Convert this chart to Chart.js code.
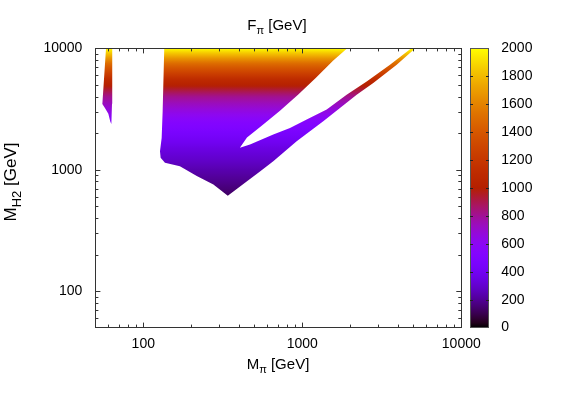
<!DOCTYPE html>
<html>
<head>
<meta charset="utf-8">
<script src="https://cdn.jsdelivr.net/npm/chart.js@4.4.1/dist/chart.umd.min.js"></script>
<style>
  html, body { margin: 0; padding: 0; background: #fff; }
</style>
</head>
<body>
<canvas id="myChart" width="563" height="394"></canvas>
<script>
const ctx = document.getElementById("myChart").getContext("2d");

// outline of the allowed region (M_pi, M_H2 in GeV), main wedge
const mainMpi = [135.5, 132.4, 130.5, 127.4, 128.6, 136.9, 170, 217, 276, 340,
  447, 542, 657, 922, 1355, 1726, 2198, 2795, 3925, 5117,
  4827, 3561, 2541, 1901, 1424, 1066, 837, 657, 469, 405,
  449, 558, 724, 940, 1219, 1560, 1910];
const mainMh2 = [10000, 3030, 1830, 1420, 1255, 1140, 1070, 886, 757, 610,
  800, 968, 1177, 1718, 2506, 3228, 4157, 5188, 7330, 10000,
  10000, 7330, 5346, 4157, 3130, 2590, 2213, 1950, 1614, 1516,
  1843, 2312, 3070, 4158, 5730, 7910, 10000];

// thin strip near M_pi ~ 60 GeV
const stripMpi = [58.3, 55.3, 57.4, 60.3, 62.0, 63.0, 63.6, 63.8];
const stripMh2 = [10000, 3480, 3230, 2890, 2500, 2380, 3500, 10000];

const colorMh2 = [600, 1000, 1500, 2500, 4000, 5500, 7500, 10000];
const colorFpi = [120, 240, 350, 540, 810, 1100, 1500, 2000];

const xTicks = [100, 1000, 10000];
const yTicks = [100, 1000, 10000];
const cbTicks = [0, 200, 400, 600, 800, 1000, 1200, 1400, 1600, 1800, 2000];
const cbMax = 2000;

const FONT = "'Liberation Sans', Arial, Helvetica, sans-serif";

// gnuplot default palette (rgbformulae 7,5,15)
function palette(t) {
  t = Math.max(0, Math.min(1, t));
  const r = Math.sqrt(t);
  const g = t * t * t;
  const b = Math.max(0, Math.sin(2 * Math.PI * t));
  return "rgb(" + Math.round(r * 255) + "," + Math.round(g * 255) + "," + Math.round(b * 255) + ")";
}

function regionFill(context) {
  const chart = context.chart;
  const y = chart.scales.y;
  if (!chart.chartArea || !y) return "#8000ff";
  const top = y.getPixelForValue(colorMh2[colorMh2.length - 1]);
  const bot = y.getPixelForValue(colorMh2[0]);
  const g = chart.ctx.createLinearGradient(0, bot, 0, top);
  for (let i = 0; i < colorMh2.length - 1; i++) {
    const p0 = y.getPixelForValue(colorMh2[i]);
    const p1 = y.getPixelForValue(colorMh2[i + 1]);
    for (let k = 0; k < 8; k++) {
      const f = k / 8;
      const px = p0 + (p1 - p0) * f;
      const v = colorFpi[i] + (colorFpi[i + 1] - colorFpi[i]) * f;
      g.addColorStop((bot - px) / (bot - top), palette(v / cbMax));
    }
  }
  g.addColorStop(1, palette(colorFpi[colorFpi.length - 1] / cbMax));
  return g;
}

function pts(xs, ys) {
  return xs.map((x, i) => ({ x: x, y: ys[i] }));
}

// text with a lowered subscript: main, sub, rest
function subText(c, parts, x, y, size, rot) {
  c.save();
  c.translate(x, y);
  if (rot) c.rotate(rot);
  c.fillStyle = "#000";
  c.textBaseline = "alphabetic";
  c.font = size + "px " + FONT;
  const w0 = c.measureText(parts[0]).width;
  const w2 = c.measureText(parts[2]).width;
  c.font = Math.round(size * 0.75) + "px " + FONT;
  const w1 = c.measureText(parts[1]).width;
  let cx = -(w0 + w1 + w2) / 2;
  c.textAlign = "left";
  c.font = size + "px " + FONT;
  c.fillText(parts[0], cx, 0);
  cx += w0;
  c.font = Math.round(size * 0.75) + "px " + FONT;
  c.fillText(parts[1], cx, size * 0.28);
  cx += w1;
  c.font = size + "px " + FONT;
  c.fillText(parts[2], cx, 0);
  c.restore();
}

const frame = {
  id: "frame",
  afterDraw(chart) {
    const c = chart.ctx;
    const a = chart.chartArea;
    const xs = chart.scales.x;
    const ys = chart.scales.y;
    const cb = chart.scales.cb;
    c.save();
    c.strokeStyle = "#333";
    c.lineWidth = 1;
    c.strokeRect(Math.round(a.left) + 0.5, Math.round(a.top) + 0.5,
      Math.round(a.right - a.left), Math.round(a.bottom - a.top));

    // inward ticks on all four sides, mirrored
    c.beginPath();
    for (let d = 10; d <= 10000; d *= 10) {
      for (let m = 1; m <= 9; m++) {
        const v = d * m;
        const len = m === 1 ? 5 : 3;
        if (v > xs.min && v < xs.max) {
          const px = Math.round(xs.getPixelForValue(v)) + 0.5;
          c.moveTo(px, a.bottom); c.lineTo(px, a.bottom - len);
          c.moveTo(px, a.top); c.lineTo(px, a.top + len);
        }
        if (v > ys.min && v < ys.max) {
          const py = Math.round(ys.getPixelForValue(v)) + 0.5;
          c.moveTo(a.left, py); c.lineTo(a.left + len, py);
          c.moveTo(a.right, py); c.lineTo(a.right - len, py);
        }
      }
    }
    c.stroke();

    // colour box
    const bx0 = 470, bx1 = 489;
    const t = cb.getPixelForValue(cbMax);
    const b = cb.getPixelForValue(0);
    const g = c.createLinearGradient(0, b, 0, t);
    for (let i = 0; i <= 60; i++) g.addColorStop(i / 60, palette(i / 60));
    c.fillStyle = g;
    c.fillRect(bx0, t, bx1 - bx0, b - t);
    c.strokeStyle = "#555";
    c.strokeRect(bx0 + 0.5, Math.round(t) + 0.5, bx1 - bx0 - 1, Math.round(b - t));
    c.strokeStyle = "#222";
    c.beginPath();
    cbTicks.forEach((v) => {
      if (v <= 0 || v >= cbMax) return;
      const py = Math.round(cb.getPixelForValue(v)) + 0.5;
      c.moveTo(bx0, py); c.lineTo(bx0 + 3, py);
      c.moveTo(bx1, py); c.lineTo(bx1 - 3, py);
    });
    c.stroke();
    c.restore();

    subText(c, ["F", "\u03c0", " [GeV]"], 277, 30, 15, 0);
    subText(c, ["M", "\u03c0", " [GeV]"], 278, 369, 15, 0);
    subText(c, ["M", "H2", " [GeV]"], 16, 182, 17, -Math.PI / 2);
  },
};

const tickFont = { family: FONT, size: 14 };

const myChart = new Chart(ctx, {
  type: "scatter",
  data: {
    datasets: [
      {
        label: "main",
        data: pts(mainMpi, mainMh2),
        showLine: true,
        fill: "shape",
        backgroundColor: regionFill,
        borderWidth: 0,
        borderColor: "rgba(0,0,0,0)",
        pointRadius: 0,
        tension: 0,
      },
      {
        label: "strip",
        data: pts(stripMpi, stripMh2),
        showLine: true,
        fill: "shape",
        backgroundColor: regionFill,
        borderWidth: 0,
        borderColor: "rgba(0,0,0,0)",
        pointRadius: 0,
        tension: 0,
      },
    ],
  },
  options: {
    responsive: false,
    animation: false,
    devicePixelRatio: 1,
    layout: { padding: { top: 47.6, left: 0, right: 0, bottom: 36.4 } },
    plugins: { legend: { display: false }, tooltip: { enabled: false } },
    scales: {
      x: {
        type: "logarithmic",
        min: 50,
        max: 10000,
        grid: { display: false, drawTicks: false },
        border: { display: false },
        ticks: { font: tickFont, color: "#000", padding: 8, maxRotation: 0, callback: (v) => String(v) },
        afterBuildTicks: (s) => { s.ticks = xTicks.map((v) => ({ value: v })); },
        afterFit: (s) => { s.height = 30; },
      },
      y: {
        type: "logarithmic",
        min: 50,
        max: 10000,
        grid: { display: false, drawTicks: false },
        border: { display: false },
        ticks: { font: tickFont, color: "#000", padding: 13, callback: (v) => String(v) },
        afterBuildTicks: (s) => { s.ticks = yTicks.map((v) => ({ value: v })); },
        afterFit: (s) => { s.width = 95.4; },
      },
      cb: {
        axis: "y",
        type: "linear",
        position: "right",
        min: 0,
        max: cbMax,
        grid: { display: false, drawTicks: false },
        border: { display: false },
        ticks: { font: tickFont, color: "#000", padding: 40, callback: (v) => String(v) },
        afterBuildTicks: (s) => { s.ticks = cbTicks.map((v) => ({ value: v })); },
        afterFit: (s) => { s.width = 101.7; },
      },
    },
  },
  plugins: [frame],
});
</script>
</body>
</html>
